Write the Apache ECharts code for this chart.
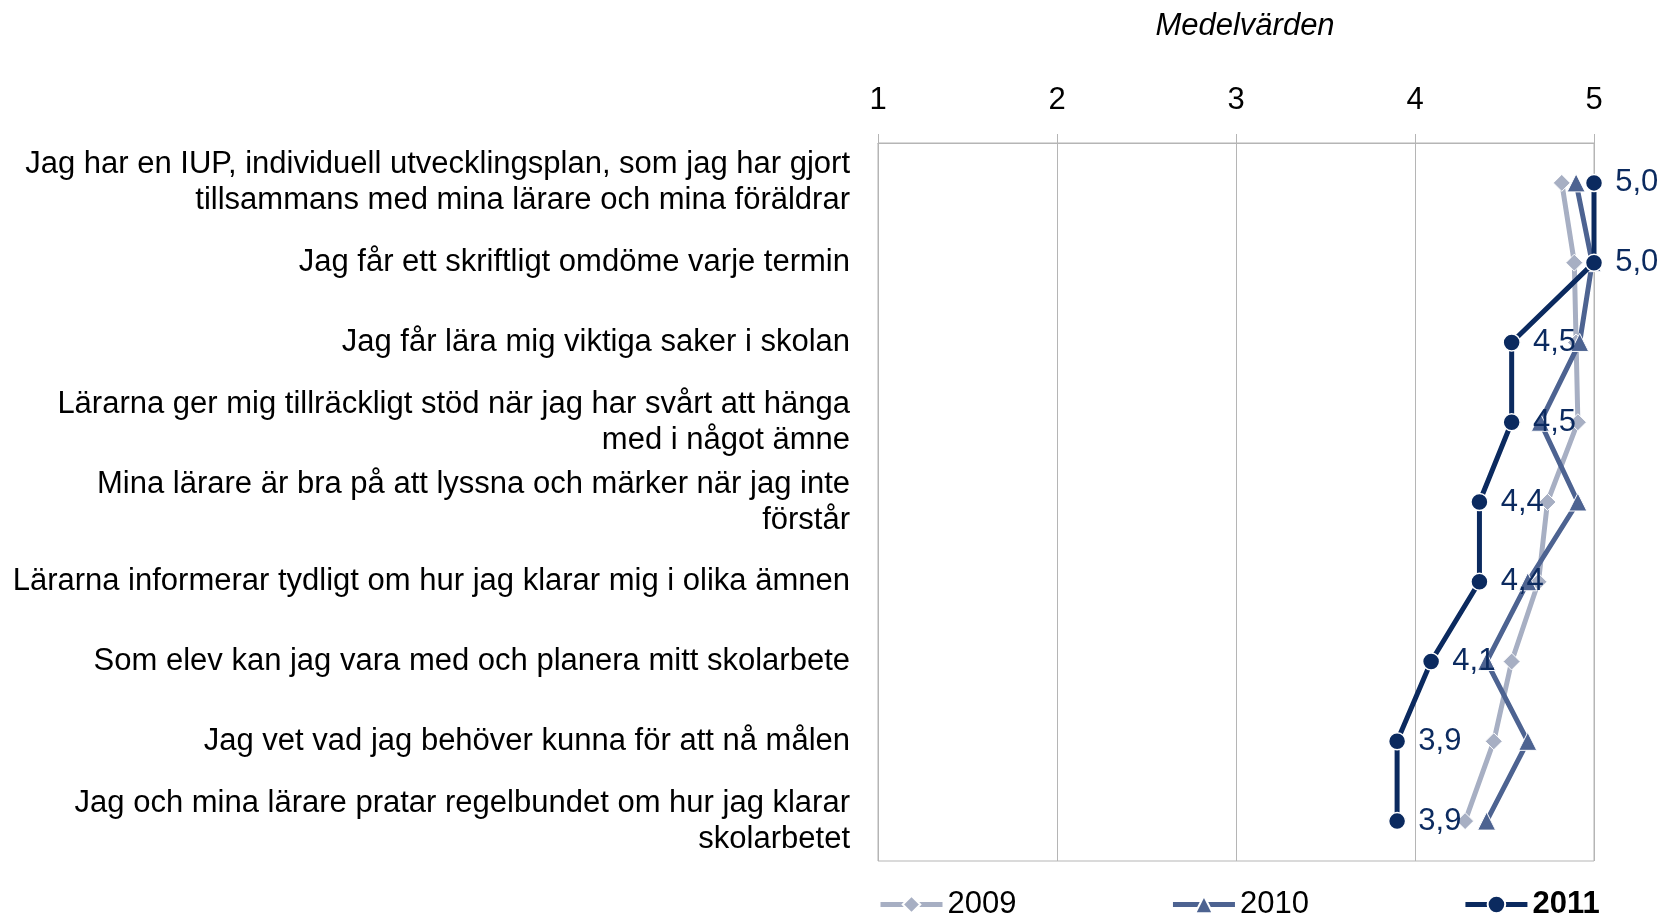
<!DOCTYPE html>
<html>
<head>
<meta charset="utf-8">
<title>Medelvärden</title>
<script src="https://cdn.jsdelivr.net/npm/echarts@6/dist/echarts.min.js"></script>
<style>
  html, body { margin: 0; padding: 0; background: #fff; }
  #main { width: 1666px; height: 915px; }
</style>
</head>
<body>
<div id="main"></div>
<script>
// påståenden (y-axeln, uppifrån och ned)
var categories = [
  'Jag har en IUP, individuell utvecklingsplan, som jag har gjort\ntillsammans med mina lärare och mina föräldrar',
  'Jag får ett skriftligt omdöme varje termin',
  'Jag får lära mig viktiga saker i skolan',
  'Lärarna ger mig tillräckligt stöd när jag har svårt att hänga\nmed i något ämne',
  'Mina lärare är bra på att lyssna och märker när jag inte\nförstår',
  'Lärarna informerar tydligt om hur jag klarar mig i olika ämnen',
  'Som elev kan jag vara med och planera mitt skolarbete',
  'Jag vet vad jag behöver kunna för att nå målen',
  'Jag och mina lärare pratar regelbundet om hur jag klarar\nskolarbetet'
];

// medelvärden per år
var values2009 = [4.82, 4.89, 4.90, 4.91, 4.74, 4.69, 4.54, 4.44, 4.28];
var values2010 = [4.90, 4.99, 4.92, 4.70, 4.91, 4.63, 4.40, 4.63, 4.40];
var values2011 = [5.0, 5.0, 4.54, 4.54, 4.36, 4.36, 4.09, 3.90, 3.90];

var xTicks = [1, 2, 3, 4, 5];

var colors = ['#a7afc3', '#4d6391', '#0b2a5f'];
var fontFamily = 'Liberation Sans, Arial, sans-serif';

function toPoints(values) {
  var res = [];
  for (var i = 0; i < values.length; i++) {
    res.push([values[i], categories[i]]);
  }
  return res;
}

var myChart = echarts.init(document.getElementById('main'));
var option = {
  animation: false,
  color: colors,
  title: {
    text: 'Medelvärden',
    left: 1240,
    top: 6,
    textAlign: 'center',
    textStyle: {
      fontFamily: fontFamily,
      fontStyle: 'italic',
      fontWeight: 'normal',
      fontSize: 31,
      color: '#000'
    }
  },
  grid: {
    show: true,
    left: 878,
    right: 72,
    top: 143,
    bottom: 54,
    outerBoundsMode: 'none',
    containLabel: false,
    borderColor: '#b5b5b5',
    borderWidth: 1,
    backgroundColor: 'transparent'
  },
  legend: {
    top: 884,
    left: 873,
    itemWidth: 62,
    itemHeight: 22,
    itemGap: 154,
    lineStyle: { width: 5 },
    textStyle: {
      fontFamily: 'Liberation Sans Narrow, Liberation Sans, Arial, sans-serif',
      fontSize: 31,
      color: '#000'
    },
    data: [
      { name: '2009' },
      { name: '2010' },
      { name: '2011', textStyle: { fontWeight: 'bold' } }
    ]
  },
  xAxis: {
    type: 'value',
    position: 'top',
    min: 1,
    max: 5,
    interval: 1,
    axisLine: { show: true, lineStyle: { color: '#b5b5b5', width: 1 } },
    axisTick: { show: true, length: 9, lineStyle: { color: '#b5b5b5' } },
    axisLabel: {
      margin: 27,
      fontFamily: 'Liberation Sans Narrow, Liberation Sans, Arial, sans-serif',
      fontSize: 31,
      color: '#000',
      formatter: function (v) {
        return xTicks.indexOf(v) >= 0 ? String(v) : '';
      }
    },
    splitLine: { show: true, lineStyle: { color: '#b5b5b5', width: 1 } }
  },
  yAxis: {
    type: 'category',
    inverse: true,
    data: categories,
    axisLine: { show: false },
    axisTick: { show: false },
    axisLabel: {
      margin: 28,
      fontFamily: fontFamily,
      fontSize: 31,
      lineHeight: 36,
      color: '#000',
      align: 'right'
    },
    splitLine: { show: false }
  },
  series: [
    {
      name: '2009',
      type: 'line',
      data: toPoints(values2009),
      symbol: 'diamond',
      symbolSize: 17,
      lineStyle: { width: 5 },
      itemStyle: { borderColor: '#fff', borderWidth: 1 },
      z: 2
    },
    {
      name: '2010',
      type: 'line',
      data: toPoints(values2010),
      symbol: 'triangle',
      symbolSize: 18,
      lineStyle: { width: 5 },
      itemStyle: { borderColor: '#fff', borderWidth: 1 },
      z: 3
    },
    {
      name: '2011',
      type: 'line',
      data: toPoints(values2011),
      symbol: 'circle',
      symbolSize: 17,
      lineStyle: { width: 5 },
      itemStyle: { borderColor: '#fff', borderWidth: 1.5 },
      label: {
        show: true,
        position: 'right',
        distance: 12,
        fontFamily: fontFamily,
        fontSize: 31,
        color: '#0b2a5f',
        formatter: function (p) {
          return p.value[0].toFixed(1).replace('.', ',');
        }
      },
      z: 4
    }
  ]
};
myChart.setOption(option);
</script>
</body>
</html>
